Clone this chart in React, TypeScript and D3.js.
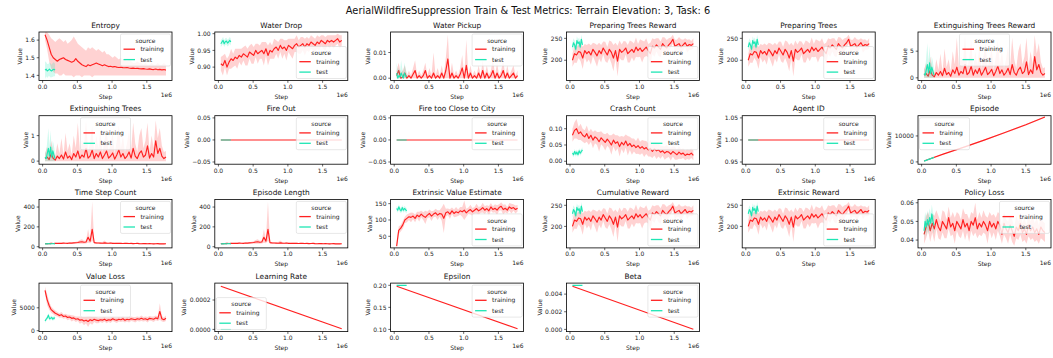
import React from "react";
import * as d3 from "d3";

// ---------- shared steps ----------
const TRAIN_STEPS = d3.range(60).map((i) => 35000 + i * 29500);
const TEST_STEPS = d3.range(10).map((j) => 35000 + j * 16000);
const LIN_STEPS = [35000, 1775000];
const LIN_TEST_STEPS = [35000, 179000];
const EPISODE_STEPS = [35000, 300000, 600000, 900000, 1200000, 1500000, 1775000];

const X_TICKS = [0, 500000, 1000000, 1500000];
const X_TICK_LABELS = ["0.0", "0.5", "1.0", "1.5"];

const SUPTITLE = "AerialWildfireSuppression Train & Test Metrics: Terrain Elevation: 3, Task: 6";

// ---------- data ----------
const ENTROPY_TRAIN = [
  1.63, 1.6, 1.56, 1.52, 1.5, 1.49, 1.48, 1.49, 1.495, 1.5,
  1.49, 1.485, 1.48, 1.475, 1.48, 1.495, 1.48, 1.47, 1.46, 1.455,
  1.45, 1.46, 1.455, 1.46, 1.465, 1.47, 1.465, 1.46, 1.455, 1.46,
  1.455, 1.45, 1.452, 1.448, 1.45, 1.447, 1.445, 1.446, 1.444, 1.443,
  1.445, 1.442, 1.44, 1.441, 1.439, 1.44, 1.438, 1.437, 1.438, 1.436,
  1.435, 1.437, 1.434, 1.433, 1.436, 1.432, 1.434, 1.431, 1.433, 1.43,
];
const ENTROPY_HI = [
  1.65, 1.645, 1.63, 1.61, 1.6, 1.59, 1.6, 1.61, 1.6, 1.59,
  1.6, 1.58, 1.59, 1.6, 1.62, 1.6, 1.58, 1.57, 1.56, 1.55,
  1.54, 1.56, 1.55, 1.56, 1.55, 1.54, 1.55, 1.54, 1.53, 1.54,
  1.52, 1.52, 1.51, 1.5, 1.51, 1.5, 1.49, 1.5, 1.49, 1.49,
  1.48, 1.49, 1.48, 1.47, 1.47, 1.48, 1.47, 1.47, 1.46, 1.47,
  1.46, 1.46, 1.47, 1.46, 1.46, 1.47, 1.46, 1.46, 1.47, 1.46,
];
const ENTROPY_LO = [
  1.6, 1.55, 1.48, 1.44, 1.42, 1.41, 1.41, 1.4, 1.4, 1.41,
  1.4, 1.4, 1.4, 1.4, 1.39, 1.4, 1.4, 1.4, 1.39, 1.4,
  1.4, 1.4, 1.4, 1.39, 1.4, 1.4, 1.4, 1.4, 1.4, 1.4,
  1.4, 1.4, 1.4, 1.4, 1.4, 1.4, 1.4, 1.4, 1.4, 1.4,
  1.4, 1.4, 1.4, 1.4, 1.4, 1.4, 1.4, 1.4, 1.4, 1.4,
  1.4, 1.4, 1.4, 1.4, 1.4, 1.4, 1.4, 1.4, 1.4, 1.4,
];
const ENTROPY_TEST = [1.43, 1.435, 1.425, 1.43, 1.435, 1.428, 1.425, 1.432, 1.435, 1.43];
const ENTROPY_TEST_SPREAD = [0.05, 0.04, 0.04, 0.035, 0.04, 0.04, 0.035, 0.04, 0.04, 0.035];

const WATER_DROP_TRAIN = [
  0.91, 0.905, 0.92, 0.9, 0.915, 0.925, 0.92, 0.93, 0.925, 0.935,
  0.93, 0.94, 0.935, 0.93, 0.945, 0.94, 0.935, 0.95, 0.94, 0.945,
  0.95, 0.94, 0.955, 0.935, 0.95, 0.945, 0.955, 0.96, 0.95, 0.965,
  0.955, 0.96, 0.95, 0.965, 0.96, 0.955, 0.965, 0.97, 0.96, 0.965,
  0.97, 0.96, 0.97, 0.965, 0.975, 0.97, 0.965, 0.975, 0.97, 0.98,
  0.975, 0.97, 0.98, 0.975, 0.98, 0.975, 0.98, 0.985, 0.975, 0.98,
];
const WATER_DROP_SPREAD = [
  0.02, 0.03, 0.02, 0.025, 0.02, 0.03, 0.02, 0.025, 0.03, 0.02,
  0.025, 0.02, 0.03, 0.025, 0.02, 0.03, 0.025, 0.02, 0.03, 0.02,
  0.025, 0.035, 0.02, 0.03, 0.025, 0.02, 0.03, 0.02, 0.025, 0.02,
  0.03, 0.02, 0.03, 0.02, 0.025, 0.03, 0.02, 0.025, 0.02, 0.025,
  0.02, 0.025, 0.02, 0.02, 0.02, 0.02, 0.02, 0.02, 0.02, 0.015,
  0.02, 0.02, 0.015, 0.02, 0.015, 0.02, 0.015, 0.015, 0.02, 0.015,
];
const WATER_DROP_TEST = [0.97, 0.975, 0.98, 0.97, 0.976, 0.978, 0.972, 0.975, 0.98, 0.975];

const WATER_PICKUP_TRAIN = [
  0.001, 0.003, 0.0, 0.0005, 0.002, 0.0, 0.001, 0.0, 0.0015, 0.003,
  0.0, 0.001, 0.0, 0.001, 0.003, 0.0, 0.001, 0.0, 0.002, 0.0,
  0.001, 0.0, 0.002, 0.0, 0.003, 0.0075, 0.0, 0.002, 0.0, 0.001,
  0.0, 0.0015, 0.004, 0.0, 0.005, 0.0, 0.002, 0.0, 0.001, 0.0,
  0.002, 0.0, 0.003, 0.0, 0.002, 0.0, 0.001, 0.003, 0.0, 0.002,
  0.0, 0.001, 0.003, 0.0, 0.002, 0.0, 0.001, 0.002, 0.0, 0.001,
];
const WATER_PICKUP_HI = [
  0.003, 0.006, 0.002, 0.003, 0.005, 0.001, 0.003, 0.001, 0.004, 0.007,
  0.001, 0.003, 0.001, 0.003, 0.006, 0.001, 0.004, 0.001, 0.01, 0.001,
  0.004, 0.001, 0.005, 0.001, 0.008, 0.017, 0.001, 0.006, 0.001, 0.003,
  0.001, 0.004, 0.009, 0.001, 0.015, 0.001, 0.005, 0.001, 0.003, 0.001,
  0.005, 0.001, 0.007, 0.001, 0.005, 0.001, 0.003, 0.008, 0.001, 0.006,
  0.001, 0.003, 0.007, 0.001, 0.005, 0.001, 0.003, 0.005, 0.001, 0.003,
];
const WATER_PICKUP_TEST = [0.002, 0.0, 0.001, 0.0005, 0.002, 0.001, 0.0, 0.002, 0.001, 0.0005];
const WATER_PICKUP_TEST_HI = [0.006, 0.003, 0.004, 0.002, 0.007, 0.004, 0.002, 0.006, 0.004, 0.002];

const REWARD_TRAIN = [
  200, 215, 212, 220, 218, 205, 222, 215, 220, 212,
  225, 218, 210, 222, 215, 228, 220, 212, 225, 218,
  205, 222, 198, 225, 218, 222, 228, 215, 220, 225,
  218, 230, 222, 228, 220, 225, 230, 222, 215, 232,
  228, 235, 230, 225, 238, 232, 228, 235, 240, 248,
  232, 235, 238, 230, 235, 240, 232, 236, 234, 238,
];
const REWARD_SPREAD = [
  15, 20, 18, 15, 20, 25, 15, 20, 18, 22,
  15, 20, 25, 18, 20, 15, 22, 18, 20, 25,
  30, 18, 35, 20, 18, 22, 15, 20, 25, 18,
  20, 22, 15, 20, 25, 18, 20, 15, 25, 18,
  20, 15, 20, 18, 15, 20, 18, 15, 12, 10,
  15, 12, 15, 18, 12, 10, 15, 12, 10, 12,
];
const REWARD_TEST = [230, 240, 235, 225, 245, 238, 242, 230, 248, 235];

const EXT_REWARD_TRAIN = [
  0.5, 0.8, 0.3, 1.5, 0.5, 0.2, 1.0, 0.5, 1.2, 0.4,
  1.8, 0.6, 1.0, 0.3, 1.5, 0.8, 2.0, 0.5, 1.2, 0.8,
  2.5, 0.6, 1.0, 2.2, 0.5, 1.5, 0.8, 1.8, 0.5, 1.2,
  2.0, 0.6, 1.0, 1.6, 0.4, 1.2, 2.2, 0.8, 1.5, 0.5,
  1.0, 1.8, 0.6, 2.5, 1.0, 0.5, 1.5, 2.0, 0.8, 1.2,
  3.0, 0.6, 1.5, 0.8, 4.0, 1.5, 2.5, 1.0, 0.5, 0.8,
];
const EXT_REWARD_HI = [
  1.5, 2.8, 1.2, 4, 1.8, 1, 3.5, 1.5, 4.5, 1.2,
  5.5, 2, 3.5, 1.2, 5, 2.5, 7.5, 2, 4, 3,
  8, 2, 3.5, 7, 1.8, 5, 2.5, 6, 1.8, 4,
  6.5, 2, 3.5, 5.5, 1.5, 4, 7, 2.5, 5, 1.8,
  3.5, 6, 2, 7.5, 3.5, 1.8, 5, 6.5, 2.5, 4,
  7.5, 2, 5, 2.5, 8, 4.5, 6.5, 3, 1.8, 2,
];
const EXT_REWARD_TEST = [0.8, 0.5, 1.5, 2.5, 1.0, 2.8, 0.8, 2.0, 1.2, 0.5];
const EXT_REWARD_TEST_HI = [2, 1.5, 4, 6.5, 3, 6, 2, 4, 3, 1.5];

const EXT_TREES_TRAIN = [
  0.1, 0.16, 0.06, 0.3, 0.1, 0.04, 0.2, 0.1, 0.24, 0.08,
  0.36, 0.12, 0.2, 0.06, 0.3, 0.16, 0.4, 0.1, 0.24, 0.16,
  0.5, 0.12, 0.2, 0.44, 0.1, 0.3, 0.16, 0.36, 0.1, 0.24,
  0.4, 0.12, 0.2, 0.32, 0.08, 0.24, 0.44, 0.16, 0.3, 0.1,
  0.2, 0.36, 0.12, 0.5, 0.2, 0.1, 0.3, 0.4, 0.16, 0.24,
  0.6, 0.12, 0.3, 0.16, 0.8, 0.3, 0.5, 0.2, 0.1, 0.16,
];
const EXT_TREES_HI = [
  0.3, 0.56, 0.24, 0.8, 0.36, 0.2, 0.7, 0.3, 0.9, 0.24,
  1.1, 0.4, 0.7, 0.24, 1.0, 0.5, 1.5, 0.4, 0.8, 0.6,
  1.6, 0.4, 0.7, 1.4, 0.36, 1.0, 0.5, 1.2, 0.36, 0.8,
  1.3, 0.4, 0.7, 1.1, 0.3, 0.8, 1.4, 0.5, 1.0, 0.36,
  0.7, 1.2, 0.4, 1.5, 0.7, 0.36, 1.0, 1.3, 0.5, 0.8,
  1.5, 0.4, 1.0, 0.5, 1.6, 0.9, 1.3, 0.6, 0.36, 0.4,
];
const EXT_TREES_TEST = [0.16, 0.1, 0.3, 0.5, 0.2, 0.55, 0.16, 0.4, 0.24, 0.1];
const EXT_TREES_TEST_HI = [0.4, 0.3, 0.8, 1.3, 0.6, 1.2, 0.4, 0.8, 0.6, 0.3];

const CRASH_TRAIN = [
  0.08, 0.095, 0.1, 0.085, 0.09, 0.08, 0.075, 0.085, 0.07, 0.08,
  0.065, 0.075, 0.07, 0.06, 0.072, 0.065, 0.058, 0.068, 0.06, 0.05,
  0.065, 0.055, 0.06, 0.045, 0.058, 0.05, 0.062, 0.048, 0.055, 0.045,
  0.05, 0.042, 0.048, 0.04, 0.045, 0.038, 0.042, 0.035, 0.04, 0.03,
  0.038, 0.032, 0.035, 0.028, 0.032, 0.025, 0.03, 0.028, 0.022, 0.03,
  0.025, 0.02, 0.028, 0.022, 0.025, 0.018, 0.022, 0.02, 0.025, 0.018,
];
const CRASH_SPREAD = [
  0.02, 0.025, 0.03, 0.02, 0.025, 0.02, 0.02, 0.025, 0.02, 0.02,
  0.025, 0.02, 0.02, 0.03, 0.02, 0.02, 0.025, 0.02, 0.02, 0.03,
  0.02, 0.025, 0.02, 0.03, 0.02, 0.025, 0.02, 0.03, 0.02, 0.025,
  0.02, 0.02, 0.025, 0.02, 0.02, 0.025, 0.02, 0.02, 0.025, 0.02,
  0.02, 0.025, 0.02, 0.02, 0.015, 0.02, 0.02, 0.015, 0.02, 0.015,
  0.02, 0.015, 0.02, 0.015, 0.015, 0.015, 0.015, 0.015, 0.015, 0.015,
];
const CRASH_TEST = [0.025, 0.02, 0.03, 0.022, 0.028, 0.02, 0.032, 0.025, 0.03, 0.035];

const EPISODE_TRAIN = [350, 2900, 5600, 8400, 11300, 14300, 17300];
const EPISODE_SPREAD = [100, 150, 200, 200, 250, 300, 300];
const EPISODE_TEST = [300, 1750];

const STEP_COUNT_TRAIN = [
  30, 32, 31, 33, 32, 34, 33, 35, 34, 36,
  35, 34, 37, 36, 38, 40, 42, 48, 50, 45,
  48, 95, 55, 175, 40, 38, 37, 36, 35, 38,
  36, 35, 37, 34, 33, 35, 34, 33, 32, 34,
  33, 32, 33, 31, 32, 33, 31, 30, 32, 31,
  30, 31, 30, 29, 30, 31, 29, 30, 29, 30,
];
const STEP_COUNT_HI = [
  36, 38, 36, 39, 37, 40, 38, 41, 39, 42,
  41, 39, 45, 42, 46, 50, 54, 68, 75, 60,
  63, 175, 75, 455, 48, 48, 45, 42, 47, 63,
  44, 41, 45, 40, 38, 41, 39, 39, 37, 40,
  38, 38, 38, 37, 37, 39, 36, 36, 37, 37,
  35, 37, 35, 35, 35, 37, 34, 36, 34, 36,
];
const STEP_COUNT_LO = [
  24, 26, 26, 27, 27, 28, 28, 29, 29, 30,
  29, 29, 29, 30, 30, 30, 30, 30, 30, 30,
  33, 40, 35, 60, 32, 28, 29, 30, 28, 28,
  28, 29, 29, 28, 28, 29, 29, 27, 27, 28,
  28, 26, 28, 25, 27, 27, 26, 24, 27, 25,
  25, 25, 25, 23, 25, 25, 24, 24, 24, 24,
];
const STEP_COUNT_TEST = [28, 30, 29, 31, 30, 29, 30, 31, 30, 29];

const VALUE_EST_TRAIN = [
  20, 68, 75, 85, 100, 105, 110, 108, 112, 105,
  115, 110, 118, 112, 108, 115, 120, 112, 118, 122,
  115, 120, 118, 105, 122, 125, 118, 128, 120, 125,
  122, 128, 125, 130, 122, 128, 132, 125, 130, 135,
  128, 132, 138, 130, 135, 128, 140, 132, 136, 130,
  138, 142, 132, 136, 130, 140, 135, 138, 132, 136,
];
const VALUE_EST_SPREAD = [
  10, 12, 10, 12, 10, 12, 10, 15, 10, 12,
  10, 15, 10, 12, 20, 10, 12, 15, 10, 12,
  15, 10, 20, 45, 12, 10, 15, 10, 12, 15,
  10, 12, 15, 30, 12, 10, 15, 12, 10, 15,
  12, 10, 15, 12, 10, 15, 12, 10, 12, 15,
  10, 12, 15, 12, 10, 12, 15, 10, 12, 10,
];
const VALUE_EST_TEST = [135, 130, 140, 132, 128, 138, 130, 135, 132, 128];

const POLICY_LOSS_TRAIN = [
  0.043, 0.047, 0.05, 0.045, 0.049, 0.046, 0.051, 0.047, 0.045, 0.05,
  0.048, 0.046, 0.052, 0.047, 0.049, 0.045, 0.05, 0.048, 0.046, 0.051,
  0.047, 0.049, 0.045, 0.05, 0.048, 0.052, 0.046, 0.049, 0.047, 0.05,
  0.048, 0.045, 0.05, 0.047, 0.049, 0.046, 0.05, 0.048, 0.043, 0.049,
  0.046, 0.044, 0.048, 0.045, 0.042, 0.047, 0.045, 0.049, 0.044, 0.046,
  0.043, 0.048, 0.045, 0.047, 0.044, 0.046, 0.043, 0.047, 0.045, 0.044,
];
const POLICY_LOSS_SPREAD = [
  0.005, 0.006, 0.005, 0.006, 0.005, 0.007, 0.005, 0.006, 0.005, 0.006,
  0.007, 0.005, 0.006, 0.005, 0.006, 0.007, 0.005, 0.006, 0.005, 0.006,
  0.007, 0.005, 0.006, 0.005, 0.006, 0.008, 0.005, 0.006, 0.005, 0.006,
  0.005, 0.007, 0.005, 0.006, 0.005, 0.006, 0.005, 0.006, 0.005, 0.006,
  0.005, 0.006, 0.005, 0.006, 0.005, 0.006, 0.005, 0.006, 0.005, 0.006,
  0.005, 0.006, 0.005, 0.006, 0.005, 0.006, 0.005, 0.006, 0.005, 0.005,
];
const POLICY_LOSS_TEST = [0.045, 0.05, 0.047, 0.051, 0.048, 0.052, 0.049, 0.054, 0.05, 0.048];

const VALUE_LOSS_TRAIN = [
  8800, 6800, 5500, 4600, 4200, 3800, 3600, 3300, 3500, 3100,
  3200, 2900, 3000, 2700, 2800, 2500, 2600, 2300, 2400, 2100,
  2300, 2000, 2400, 2200, 2500, 2300, 2200, 2400, 2300, 2500,
  2200, 2400, 2300, 2600, 2400, 2300, 2500, 2400, 2600, 2300,
  2500, 2400, 2600, 2500, 2400, 2600, 2500, 2700, 2500, 2600,
  2400, 2700, 2600, 2500, 2800, 2600, 4200, 2600, 2400, 2700,
];
const VALUE_LOSS_SPREAD = [
  800, 1200, 900, 700, 600, 600, 500, 500, 600, 500,
  500, 600, 500, 700, 500, 600, 500, 800, 600, 900,
  700, 1200, 800, 900, 600, 700, 600, 500, 600, 500,
  600, 500, 600, 500, 500, 600, 500, 500, 600, 500,
  500, 600, 500, 500, 600, 500, 500, 600, 500, 500,
  600, 500, 500, 600, 500, 500, 1800, 600, 500, 600,
];
const VALUE_LOSS_TEST = [2100, 2500, 2800, 3400, 2600, 2700, 2900, 2500, 2800, 2700];

const ZERO_LINE = [0, 0];
const AGENT_ID = [1, 1];
const LR_TRAIN = [0.000294, 0.000004];
const LR_TEST = [0, 0];
const EPSILON_TRAIN = [0.198, 0.1014];
const EPSILON_TEST = [0.2, 0.2];
const BETA_TRAIN = [0.0049, 0.00002];
const BETA_TEST = [0.005, 0.005];

// ---------- panel config ----------
type Series = {
  steps: number[];
  y: number[];
  spread?: number[] | number;
  lo?: number[] | number;
  hi?: number[];
};
type Panel = {
  title: string;
  train: Series;
  test: Series;
  yDomain: [number, number];
  yTicks: number[];
  yLabels: string[];
  legend: "ur" | "lr" | "uc" | "ul" | "ll";
};

const RED = "#ff2020";
const CYAN = "#1ee6b4";

const PANELS: Panel[] = [
  {
    title: "Entropy",
    train: { steps: TRAIN_STEPS, y: ENTROPY_TRAIN, lo: ENTROPY_LO, hi: ENTROPY_HI },
    test: { steps: TEST_STEPS, y: ENTROPY_TEST, spread: ENTROPY_TEST_SPREAD },
    yDomain: [1.371, 1.646], yTicks: [1.4, 1.5, 1.6], yLabels: ["1.4", "1.5", "1.6"], legend: "ur",
  },
  {
    title: "Water Drop",
    train: { steps: TRAIN_STEPS, y: WATER_DROP_TRAIN, spread: WATER_DROP_SPREAD },
    test: { steps: TEST_STEPS, y: WATER_DROP_TEST, spread: 0.01 },
    yDomain: [0.86, 1.005], yTicks: [0.9, 0.95, 1.0], yLabels: ["0.90", "0.95", "1.00"], legend: "lr",
  },
  {
    title: "Water Pickup",
    train: { steps: TRAIN_STEPS, y: WATER_PICKUP_TRAIN, lo: 0, hi: WATER_PICKUP_HI },
    test: { steps: TEST_STEPS, y: WATER_PICKUP_TEST, lo: 0, hi: WATER_PICKUP_TEST_HI },
    yDomain: [-0.0009, 0.018], yTicks: [0, 0.01], yLabels: ["0.00", "0.01"], legend: "ur",
  },
  {
    title: "Preparing Trees Reward",
    train: { steps: TRAIN_STEPS, y: REWARD_TRAIN, spread: REWARD_SPREAD },
    test: { steps: TEST_STEPS, y: REWARD_TEST, spread: 10 },
    yDomain: [153.8, 264.5], yTicks: [200, 250], yLabels: ["200", "250"], legend: "lr",
  },
  {
    title: "Preparing Trees",
    train: { steps: TRAIN_STEPS, y: REWARD_TRAIN, spread: REWARD_SPREAD },
    test: { steps: TEST_STEPS, y: REWARD_TEST, spread: 10 },
    yDomain: [153.8, 264.5], yTicks: [200, 250], yLabels: ["200", "250"], legend: "lr",
  },
  {
    title: "Extinguishing Trees Reward",
    train: { steps: TRAIN_STEPS, y: EXT_REWARD_TRAIN, lo: 0, hi: EXT_REWARD_HI },
    test: { steps: TEST_STEPS, y: EXT_REWARD_TEST, lo: 0, hi: EXT_REWARD_TEST_HI },
    yDomain: [-0.5, 8.6], yTicks: [0, 5], yLabels: ["0", "5"], legend: "uc",
  },
  {
    title: "Extinguishing Trees",
    train: { steps: TRAIN_STEPS, y: EXT_TREES_TRAIN, lo: 0, hi: EXT_TREES_HI },
    test: { steps: TEST_STEPS, y: EXT_TREES_TEST, lo: 0, hi: EXT_TREES_TEST_HI },
    yDomain: [-0.12, 1.78], yTicks: [0, 1], yLabels: ["0", "1"], legend: "uc",
  },
  {
    title: "Fire Out",
    train: { steps: LIN_STEPS, y: ZERO_LINE },
    test: { steps: LIN_TEST_STEPS, y: ZERO_LINE },
    yDomain: [-0.055, 0.055], yTicks: [-0.05, 0, 0.05], yLabels: ["\u22120.05", "0.00", "0.05"], legend: "ur",
  },
  {
    title: "Fire too Close to City",
    train: { steps: LIN_STEPS, y: ZERO_LINE },
    test: { steps: LIN_TEST_STEPS, y: ZERO_LINE },
    yDomain: [-0.055, 0.055], yTicks: [-0.05, 0, 0.05], yLabels: ["\u22120.05", "0.00", "0.05"], legend: "ur",
  },
  {
    title: "Crash Count",
    train: { steps: TRAIN_STEPS, y: CRASH_TRAIN, spread: CRASH_SPREAD },
    test: { steps: TEST_STEPS, y: CRASH_TEST, spread: 0.008 },
    yDomain: [-0.009, 0.14], yTicks: [0, 0.05, 0.1], yLabels: ["0.00", "0.05", "0.10"], legend: "ur",
  },
  {
    title: "Agent ID",
    train: { steps: LIN_STEPS, y: AGENT_ID },
    test: { steps: LIN_TEST_STEPS, y: AGENT_ID },
    yDomain: [0.945, 1.055], yTicks: [0.95, 1.0, 1.05], yLabels: ["0.95", "1.00", "1.05"], legend: "ur",
  },
  {
    title: "Episode",
    train: { steps: EPISODE_STEPS, y: EPISODE_TRAIN, spread: EPISODE_SPREAD },
    test: { steps: LIN_TEST_STEPS, y: EPISODE_TEST },
    yDomain: [-880, 17800], yTicks: [0, 10000], yLabels: ["0", "10000"], legend: "ul",
  },
  {
    title: "Time Step Count",
    train: { steps: TRAIN_STEPS, y: STEP_COUNT_TRAIN, lo: STEP_COUNT_LO, hi: STEP_COUNT_HI },
    test: { steps: TEST_STEPS, y: STEP_COUNT_TEST, spread: 3 },
    yDomain: [-12, 477], yTicks: [0, 200, 400], yLabels: ["0", "200", "400"], legend: "ur",
  },
  {
    title: "Episode Length",
    train: { steps: TRAIN_STEPS, y: STEP_COUNT_TRAIN, lo: STEP_COUNT_LO, hi: STEP_COUNT_HI },
    test: { steps: TEST_STEPS, y: STEP_COUNT_TEST, spread: 3 },
    yDomain: [-12, 477], yTicks: [0, 200, 400], yLabels: ["0", "200", "400"], legend: "ur",
  },
  {
    title: "Extrinsic Value Estimate",
    train: { steps: TRAIN_STEPS, y: VALUE_EST_TRAIN, spread: VALUE_EST_SPREAD },
    test: { steps: TEST_STEPS, y: VALUE_EST_TEST, spread: 8 },
    yDomain: [14.5, 163], yTicks: [50, 100, 150], yLabels: ["50", "100", "150"], legend: "lr",
  },
  {
    title: "Cumulative Reward",
    train: { steps: TRAIN_STEPS, y: REWARD_TRAIN, spread: REWARD_SPREAD },
    test: { steps: TEST_STEPS, y: REWARD_TEST, spread: 10 },
    yDomain: [149, 264], yTicks: [200, 250], yLabels: ["200", "250"], legend: "lr",
  },
  {
    title: "Extrinsic Reward",
    train: { steps: TRAIN_STEPS, y: REWARD_TRAIN, spread: REWARD_SPREAD },
    test: { steps: TEST_STEPS, y: REWARD_TEST, spread: 10 },
    yDomain: [149, 264], yTicks: [200, 250], yLabels: ["200", "250"], legend: "lr",
  },
  {
    title: "Policy Loss",
    train: { steps: TRAIN_STEPS, y: POLICY_LOSS_TRAIN, spread: POLICY_LOSS_SPREAD },
    test: { steps: TEST_STEPS, y: POLICY_LOSS_TEST, spread: 0.005 },
    yDomain: [0.0358, 0.0618], yTicks: [0.04, 0.05, 0.06], yLabels: ["0.04", "0.05", "0.06"], legend: "ur",
  },
  {
    title: "Value Loss",
    train: { steps: TRAIN_STEPS, y: VALUE_LOSS_TRAIN, spread: VALUE_LOSS_SPREAD },
    test: { steps: TEST_STEPS, y: VALUE_LOSS_TEST, spread: 400 },
    yDomain: [-200, 10400], yTicks: [0, 5000], yLabels: ["0", "5000"], legend: "uc",
  },
  {
    title: "Learning Rate",
    train: { steps: LIN_STEPS, y: LR_TRAIN },
    test: { steps: LIN_TEST_STEPS, y: LR_TEST },
    yDomain: [-0.000015, 0.000315], yTicks: [0, 0.0002], yLabels: ["0.0000", "0.0002"], legend: "ll",
  },
  {
    title: "Epsilon",
    train: { steps: LIN_STEPS, y: EPSILON_TRAIN },
    test: { steps: LIN_TEST_STEPS, y: EPSILON_TEST },
    yDomain: [0.095, 0.205], yTicks: [0.1, 0.15, 0.2], yLabels: ["0.10", "0.15", "0.20"], legend: "ur",
  },
  {
    title: "Beta",
    train: { steps: LIN_STEPS, y: BETA_TRAIN },
    test: { steps: LIN_TEST_STEPS, y: BETA_TEST },
    yDomain: [-0.00025, 0.00525], yTicks: [0, 0.002, 0.004], yLabels: ["0.000", "0.002", "0.004"], legend: "ur",
  },
];

// ---------- layout ----------
const W = 1053;
const H = 358;
const FONT = "DejaVu Sans, Verdana, sans-serif";
const COL_LEFT0 = 39;
const COL_PITCH = 175.8;
const AX_W = 133;
const ROW_TOP0 = 32;
const ROW_PITCH = 83.7;
const AX_H = 48.5;
const TICK = 2.3;
const FS_TICK = 6;
const FS_TITLE = 7.4;
const LEG_W = 50;
const LEG_H = 32;

const CHAR_W: Record<string, number> = {
  "0": 0.636, "1": 0.636, "2": 0.636, "3": 0.636, "4": 0.636, "5": 0.636,
  "6": 0.636, "7": 0.636, "8": 0.636, "9": 0.636, ".": 0.318, "\u2212": 0.838,
};
const textW = (s: string, fs: number) =>
  s.split("").reduce((a, c) => a + (CHAR_W[c] ?? 0.6), 0) * fs;

const X_DOMAIN: [number, number] = (() => {
  const [a, b] = d3.extent(TRAIN_STEPS) as [number, number];
  const m = (b - a) * 0.05;
  return [a - m, b + m];
})();

function band(s: Series): { lo: number[]; hi: number[] } | null {
  if (s.spread === undefined && s.lo === undefined && s.hi === undefined) return null;
  const lo = s.y.map((v, i) => {
    if (Array.isArray(s.lo)) return s.lo[i];
    if (typeof s.lo === "number") return s.lo;
    const sp = Array.isArray(s.spread) ? s.spread[i] : (s.spread as number);
    return v - sp;
  });
  const hi = s.y.map((v, i) => {
    if (s.hi) return s.hi[i];
    const sp = Array.isArray(s.spread) ? s.spread[i] : (s.spread as number);
    return v + sp;
  });
  return { lo, hi };
}

function SeriesMarks({ s, color, x, y }: { s: Series; color: string; x: any; y: any }) {
  const b = band(s);
  const area = d3
    .area<number>()
    .x((_, i) => x(s.steps[i]))
    .y0((_, i) => y(b ? b.lo[i] : 0))
    .y1((_, i) => y(b ? b.hi[i] : 0));
  const line = d3
    .line<number>()
    .x((_, i) => x(s.steps[i]))
    .y((d) => y(d));
  return (
    <g>
      {b && <path d={area(s.y) || ""} fill={color} fillOpacity={0.2} stroke="none" />}
      <path d={line(s.y) || ""} fill="none" stroke={color} strokeWidth={1.15} strokeLinejoin="round" />
    </g>
  );
}

function Legend({ lx, ly }: { lx: number; ly: number }) {
  return (
    <g transform={`translate(${lx},${ly})`} fontFamily={FONT} fontSize={6} fill="#222">
      <rect width={LEG_W} height={LEG_H} rx={1.5} fill="white" fillOpacity={0.8} stroke="#d6d6d6" strokeWidth={0.6} />
      <text x={LEG_W / 2} y={8.8} textAnchor="middle">source</text>
      <line x1={3} x2={14.5} y1={15.2} y2={15.2} stroke={RED} strokeWidth={1.3} />
      <text x={20} y={17.4}>training</text>
      <line x1={3} x2={14.5} y1={25.6} y2={25.6} stroke={CYAN} strokeWidth={1.3} />
      <text x={20} y={27.8}>test</text>
    </g>
  );
}

function Axes({ p, idx }: { p: Panel; idx: number }) {
  const col = idx % 6;
  const row = Math.floor(idx / 6);
  const left = COL_LEFT0 + col * COL_PITCH;
  const top = ROW_TOP0 + row * ROW_PITCH;
  const right = left + AX_W;
  const bottom = top + AX_H;
  const x = d3.scaleLinear().domain(X_DOMAIN).range([left, right]);
  const y = d3.scaleLinear().domain(p.yDomain).range([bottom, top]);
  const clipId = `clip-${idx}`;
  const maxLab = Math.max(...p.yLabels.map((l) => textW(l, FS_TICK)));
  const ylabX = left - TICK - 1.8 - maxLab - 2.6 - 3;

  let lx = right - 1.5 - LEG_W;
  let ly = top + 2;
  if (p.legend === "lr") ly = bottom - 2 - LEG_H;
  if (p.legend === "uc") lx = (left + right) / 2 - LEG_W / 2;
  if (p.legend === "ul") lx = left + 1.5;
  if (p.legend === "ll") {
    lx = left + 1.5;
    ly = bottom - 2 - LEG_H;
  }

  return (
    <g>
      <clipPath id={clipId}>
        <rect x={left} y={top} width={AX_W} height={AX_H} />
      </clipPath>
      <g clipPath={`url(#${clipId})`}>
        <SeriesMarks s={p.train} color={RED} x={x} y={y} />
        <SeriesMarks s={p.test} color={CYAN} x={x} y={y} />
      </g>
      <rect x={left} y={top} width={AX_W} height={AX_H} fill="none" stroke="#000" strokeWidth={0.8} />
      {X_TICKS.map((t, i) => (
        <g key={`xt${i}`}>
          <line x1={x(t)} x2={x(t)} y1={bottom} y2={bottom + TICK} stroke="#000" strokeWidth={0.6} />
          <text x={x(t)} y={bottom + 8.3} textAnchor="middle" fontSize={FS_TICK} fontFamily={FONT} fill="#222">
            {X_TICK_LABELS[i]}
          </text>
        </g>
      ))}
      {p.yTicks.map((t, i) => (
        <g key={`yt${i}`}>
          <line x1={left - TICK} x2={left} y1={y(t)} y2={y(t)} stroke="#000" strokeWidth={0.6} />
          <text x={left - TICK - 1.8} y={y(t) + 2.2} textAnchor="end" fontSize={FS_TICK} fontFamily={FONT} fill="#222">
            {p.yLabels[i]}
          </text>
        </g>
      ))}
      <text x={(left + right) / 2} y={bottom + 18.5} textAnchor="middle" fontSize={FS_TICK} fontFamily={FONT} fill="#222">
        Step
      </text>
      <text x={right} y={bottom + 16.8} textAnchor="end" fontSize={FS_TICK} fontFamily={FONT} fill="#222">
        1e6
      </text>
      <text
        transform={`translate(${ylabX},${(top + bottom) / 2}) rotate(-90)`}
        textAnchor="middle"
        dy="0.35em"
        fontSize={FS_TICK}
        fontFamily={FONT}
        fill="#222"
      >
        Value
      </text>
      <text x={(left + right) / 2} y={top - 4.5} textAnchor="middle" fontSize={FS_TITLE} fontFamily={FONT} fill="#111">
        {p.title}
      </text>
      <Legend lx={lx} ly={ly} />
    </g>
  );
}

export default function App() {
  return (
    <svg
      width={W}
      height={H}
      viewBox={`0 0 ${W} ${H}`}
      style={{ position: "absolute", left: 0, top: 0, background: "white" }}
    >
      <rect width={W} height={H} fill="white" />
      <text x={W / 2 + 1.5} y={13.5} textAnchor="middle" fontSize={9.8} fontFamily={FONT} fill="#111">
        {SUPTITLE}
      </text>
      {PANELS.map((p, i) => (
        <Axes key={i} p={p} idx={i} />
      ))}
    </svg>
  );
}
